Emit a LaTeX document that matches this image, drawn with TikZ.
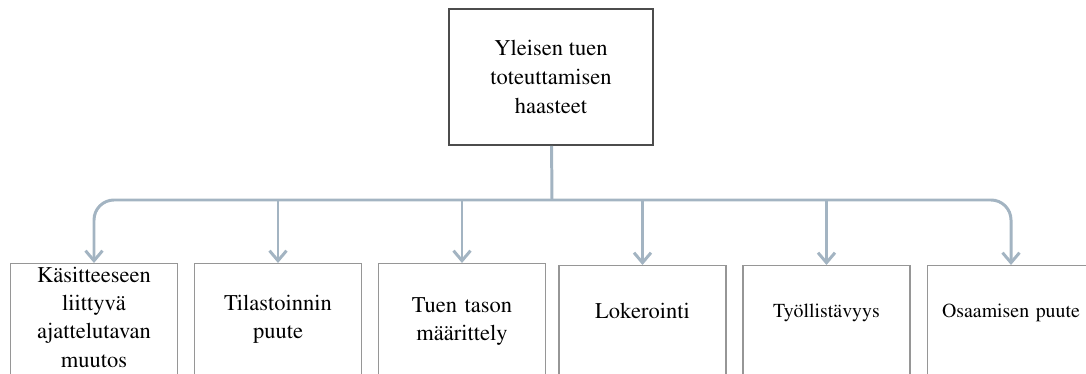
\documentclass[tikz,border=0pt]{standalone}
\usepackage[T1]{fontenc}
\usepackage{mathptmx}
\usetikzlibrary{arrows.meta}
\definecolor{linkblue}{RGB}{163,180,194}
\definecolor{boxgray}{RGB}{150,150,150}
\tikzset{
    > = {Straight Barb[length=2mm, width=3.4mm]},
    topbox/.style = {draw = gray!60!black, line width = 1.1pt, minimum width = 4.08cm,
        minimum height = 2.72cm, align = center, font = \fontsize{12.8}{16.4}\selectfont},
    item/.style = {draw = boxgray, line width = 0.8pt, anchor = north, text width = 3.1cm,
        minimum width = 3.3cm, inner ysep = 0pt, align = center, text depth = 3cm,
        font = \fontsize{12.8}{16}\selectfont},
    link/.style = {draw = linkblue, line width = 1.7pt}
}

\begin{document}
\begin{tikzpicture}[x = 0.02cm, y = -0.02cm]
    \useasboundingbox (0, 0) rectangle (1086, 374);
    \clip (0, 0) rectangle (1086, 374);

    \node[topbox] (top) at (551, 77) {Yleisen tuen\\ toteuttamisen\\ haasteet};

    \node[item, text height = 0.38cm] (k1) at (94, 263) {Käsitteeseen\\ liittyvä\\ ajattelutavan\\ muutos};
    \node[item, text height = 0.94cm] (k2) at (278, 263) {Tilastoinnin\\ puute};
    \node[item, text height = 0.98cm] (k3) at (462, 263) {Tuen tason\\ määrittely};
    \node[item, text height = 1.06cm] (k4) at (642.5, 265) {Lokerointi};
    \node[item, text height = 1.04cm, font = \fontsize{11.3}{14}\selectfont] (k5) at (826.5, 265) {Työllistävyys};
    \node[item, text height = 1.04cm, font = \fontsize{11.3}{14}\selectfont] (k6) at (1011, 265) {Osaamisen puute};

    \coordinate (hub) at (552, 200);

    \draw[link] (top) -- (hub);
    \draw[link, rounded corners = 0.4cm, <->] (k1.north) |- (hub) -| (k6.north);
    \draw[link, ->] (k2.north |- hub) -- (k2);
    \draw[link, ->] (k3.north |- hub) -- (k3);
    \draw[link, ->] (k4.north |- hub) -- (k4);
    \draw[link, ->] (k5.north |- hub) -- (k5);
\end{tikzpicture}
\end{document}
